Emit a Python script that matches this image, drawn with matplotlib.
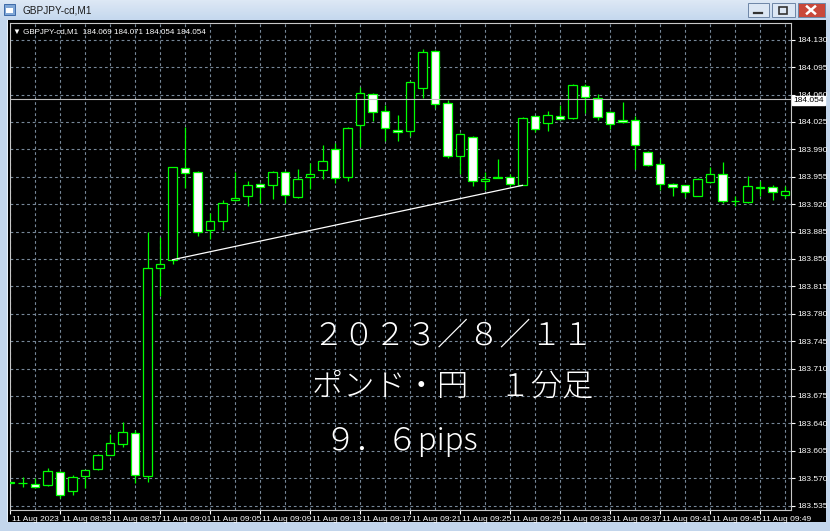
import matplotlib
matplotlib.use("Agg")
import matplotlib.pyplot as plt
import matplotlib.transforms as mtransforms
from matplotlib.patches import Rectangle
import numpy as np

W, H = 830, 531

# GBPJPY-cd M1, 11 Aug 2023, bars 08:49 .. 09:51
opens = [183.564, 183.564, 183.563, 183.561, 183.578, 183.553, 183.573, 183.582, 183.600, 183.614,
         183.628, 183.573, 183.838, 183.849, 183.966, 183.961, 183.887, 183.898, 183.925, 183.931,
         183.946, 183.945, 183.961, 183.929, 183.955, 183.964, 183.990, 183.955, 184.021, 184.061,
         184.039, 184.015, 184.013, 184.068, 184.115, 184.049, 183.982, 184.006, 183.949, 183.954,
         183.955, 183.945, 184.032, 184.024, 184.033, 184.030, 184.071, 184.056, 184.038, 184.027,
         184.027, 183.987, 183.971, 183.946, 183.944, 183.931, 183.948, 183.958, 183.924, 183.923,
         183.941, 183.942, 183.932]
highs = [183.567, 183.572, 183.570, 183.583, 183.579, 183.574, 183.581, 183.601, 183.626, 183.642,
         183.632, 183.884, 183.878, 183.968, 184.019, 183.962, 183.909, 183.925, 183.961, 183.949,
         183.947, 183.962, 183.962, 183.965, 183.973, 183.995, 183.998, 184.019, 184.070, 184.062,
         184.046, 184.034, 184.077, 184.118, 184.117, 184.053, 184.011, 184.007, 183.961, 183.978,
         183.959, 184.031, 184.033, 184.039, 184.046, 184.074, 184.074, 184.061, 184.039, 184.050,
         184.032, 183.988, 183.978, 183.947, 183.945, 183.953, 183.967, 183.974, 183.931, 183.956,
         183.950, 183.944, 183.943]
lows = [183.561, 183.559, 183.558, 183.560, 183.545, 183.548, 183.557, 183.581, 183.599, 183.610,
        183.564, 183.565, 183.803, 183.843, 183.941, 183.879, 183.875, 183.887, 183.924, 183.917,
        183.921, 183.926, 183.921, 183.928, 183.939, 183.952, 183.947, 183.950, 183.993, 184.026,
        184.001, 184.001, 184.007, 184.056, 184.043, 183.979, 183.959, 183.943, 183.938, 183.953,
        183.943, 183.944, 184.012, 184.013, 184.028, 184.029, 184.036, 184.027, 184.016, 184.024,
        183.965, 183.969, 183.938, 183.930, 183.929, 183.930, 183.947, 183.922, 183.917, 183.921,
        183.930, 183.925, 183.928]
closes = [183.565, 183.564, 183.559, 183.579, 183.548, 183.572, 183.580, 183.600, 183.615, 183.629,
          183.574, 183.838, 183.843, 183.967, 183.960, 183.884, 183.898, 183.921, 183.928, 183.944,
          183.942, 183.961, 183.932, 183.952, 183.958, 183.975, 183.953, 184.017, 184.062, 184.038,
          184.017, 184.012, 184.076, 184.114, 184.048, 183.981, 184.010, 183.950, 183.952, 183.954,
          183.946, 184.030, 184.016, 184.034, 184.029, 184.072, 184.057, 184.031, 184.022, 184.025,
          183.995, 183.970, 183.946, 183.942, 183.935, 183.952, 183.958, 183.924, 183.924, 183.943,
          183.941, 183.935, 183.937]

price_ticks = [183.535, 183.570, 183.605, 183.640, 183.675, 183.710, 183.745, 183.780, 183.815,
               183.850, 183.885, 183.920, 183.955, 183.990, 184.025, 184.060, 184.095, 184.130]
time_labels = ["11 Aug 2023", "11 Aug 08:53", "11 Aug 08:57", "11 Aug 09:01", "11 Aug 09:05",
               "11 Aug 09:09", "11 Aug 09:13", "11 Aug 09:17", "11 Aug 09:21", "11 Aug 09:25",
               "11 Aug 09:29", "11 Aug 09:33", "11 Aug 09:37", "11 Aug 09:41", "11 Aug 09:45",
               "11 Aug 09:49"]
bid = 184.054
trend_bars = [13, 41]
trend_prices = [183.849, 183.944]
header = "GBPJPY-cd,M1  184.069 184.071 184.054 184.054"
title = "GBPJPY-cd,M1"
overlay = ["２０２３／８／１１", "ポンド・円　１分足", "９．６pips"]

small = ["Liberation Sans Narrow", "Liberation Sans", "DejaVu Sans"]

fig = plt.figure(figsize=(W / 100, H / 100), dpi=100)
fig.patch.set_facecolor("#c3d6ec")


def px(x0, y0, w, h):
    # figure fraction rect from pixel box (top-left origin)
    return [x0 / W, 1 - (y0 + h) / H, w / W, h / H]


# window chrome
fig.add_artist(Rectangle((8 / W, 1 - 522 / H), 818 / W, 502 / H, transform=fig.transFigure,
                         facecolor="black", edgecolor="none", zorder=0))
fig.add_artist(Rectangle((7 / W, 1 - 522 / H), 1 / W, 502 / H, transform=fig.transFigure,
                         facecolor="#e8f0f8", edgecolor="none", zorder=0))

tb = fig.add_axes(px(0, 0, W, 20))
grad = np.linspace(0, 1, 20)[:, None]
tb.imshow(grad, cmap=matplotlib.colors.LinearSegmentedColormap.from_list("t", ["#dde8f5", "#c5d8ee"]),
          aspect="auto", extent=(0, W, 20, 0))
tb.set_xlim(0, W)
tb.set_ylim(20, 0)
tb.axis("off")
tb.add_patch(Rectangle((4, 4), 11, 11, facecolor="#7fa6d6", edgecolor="#3d6aa8", lw=0.7))
tb.add_patch(Rectangle((6, 8), 7, 5, facecolor="white", edgecolor="none"))
tb.text(22, 10.5, title, fontsize=7.2, family=["Liberation Sans", "DejaVu Sans"],
        va="center", ha="left", color="#1a1a1a")
for bx, bw, fc in [(748, 21, "#dce7f4"), (772, 23, "#dce7f4"), (798, 27, "#c9483a")]:
    tb.add_patch(Rectangle((bx, 3), bw, 14, facecolor=fc, edgecolor="#6d86a6", lw=0.7))
tb.plot([754, 762], [13, 13], color="#333333", lw=1.6)
tb.add_patch(Rectangle((779, 6.5), 8, 7, facecolor="none", edgecolor="#333333", lw=1.2))
tb.plot([807, 815], [6.5, 13.5], color="white", lw=1.8)
tb.plot([807, 815], [13.5, 6.5], color="white", lw=1.8)

# chart
ax = fig.add_axes(px(9.5, 22.5, 781, 487))
ax.set_facecolor("black")
ax.set_xlim(-0.04, 62.44)
ax.set_ylim(183.530, 184.152)

n = len(opens)
xs = np.arange(n)
o = np.array(opens)
c = np.array(closes)
up = c >= o

for x in range(0, n, 2):
    ax.axvline(x, color="#778899", lw=0.8, ls=(0, (2.5, 2.5)), zorder=1)
for p in price_ticks:
    ax.axhline(p, color="#778899", lw=0.8, ls=(0, (2.5, 2.5)), zorder=1)

ax.vlines(xs, lows, highs, color="#00ff00", lw=0.9, zorder=2)
bottoms = np.minimum(o, c)
heights = np.maximum(np.abs(c - o), 0.0004)
ax.bar(xs, heights, bottom=bottoms, width=0.66, color=np.where(up, "black", "white"),
       edgecolor="#00ff00", linewidth=0.9, zorder=3)

ax.plot(trend_bars, trend_prices, color="white", lw=0.9, zorder=4)
ax.axhline(bid, color="#c0c0c0", lw=0.8, zorder=4)

for s in ax.spines.values():
    s.set_color("#c8c8c8")
    s.set_linewidth(0.8)

ax.yaxis.tick_right()
ax.set_yticks(price_ticks)
ax.set_yticklabels([f"{p:.3f}" for p in price_ticks])
ax.set_xticks(range(0, n, 4))
ax.set_xticklabels(time_labels, ha="left")
ax.tick_params(axis="both", colors="white", labelsize=6, length=3, width=0.8, pad=2)
shift = mtransforms.ScaledTranslation(2 / 100, 0, fig.dpi_scale_trans)
for t in ax.get_xticklabels():
    t.set_family(small)
    t.set_transform(t.get_transform() + shift)
for t in ax.get_yticklabels():
    t.set_family(small)

trans = mtransforms.blended_transform_factory(ax.transAxes, ax.transData)
ax.text(1.004, bid - 0.0015, f"{bid:.3f}", transform=trans, fontsize=6, family=small,
        color="black", va="center", ha="left", zorder=6, clip_on=False,
        bbox=dict(boxstyle="square,pad=0.15", facecolor="white", edgecolor="white"))

ax.text(0.004, 0.988, "\u25bc " + header, transform=ax.transAxes, fontsize=5.8, family=small,
        color="white", va="top", ha="left")

jp = ["Noto Sans CJK JP", "DejaVu Sans"]
for txt, xp, yp in zip(overlay, [312, 312, 324], [335, 386, 441]):
    fig.text(xp / W, 1 - yp / H, txt, fontsize=22.5, family=jp, color="white",
             weight="light", va="center", ha="left")

fig.savefig("out.png", dpi=100, facecolor=fig.get_facecolor())
